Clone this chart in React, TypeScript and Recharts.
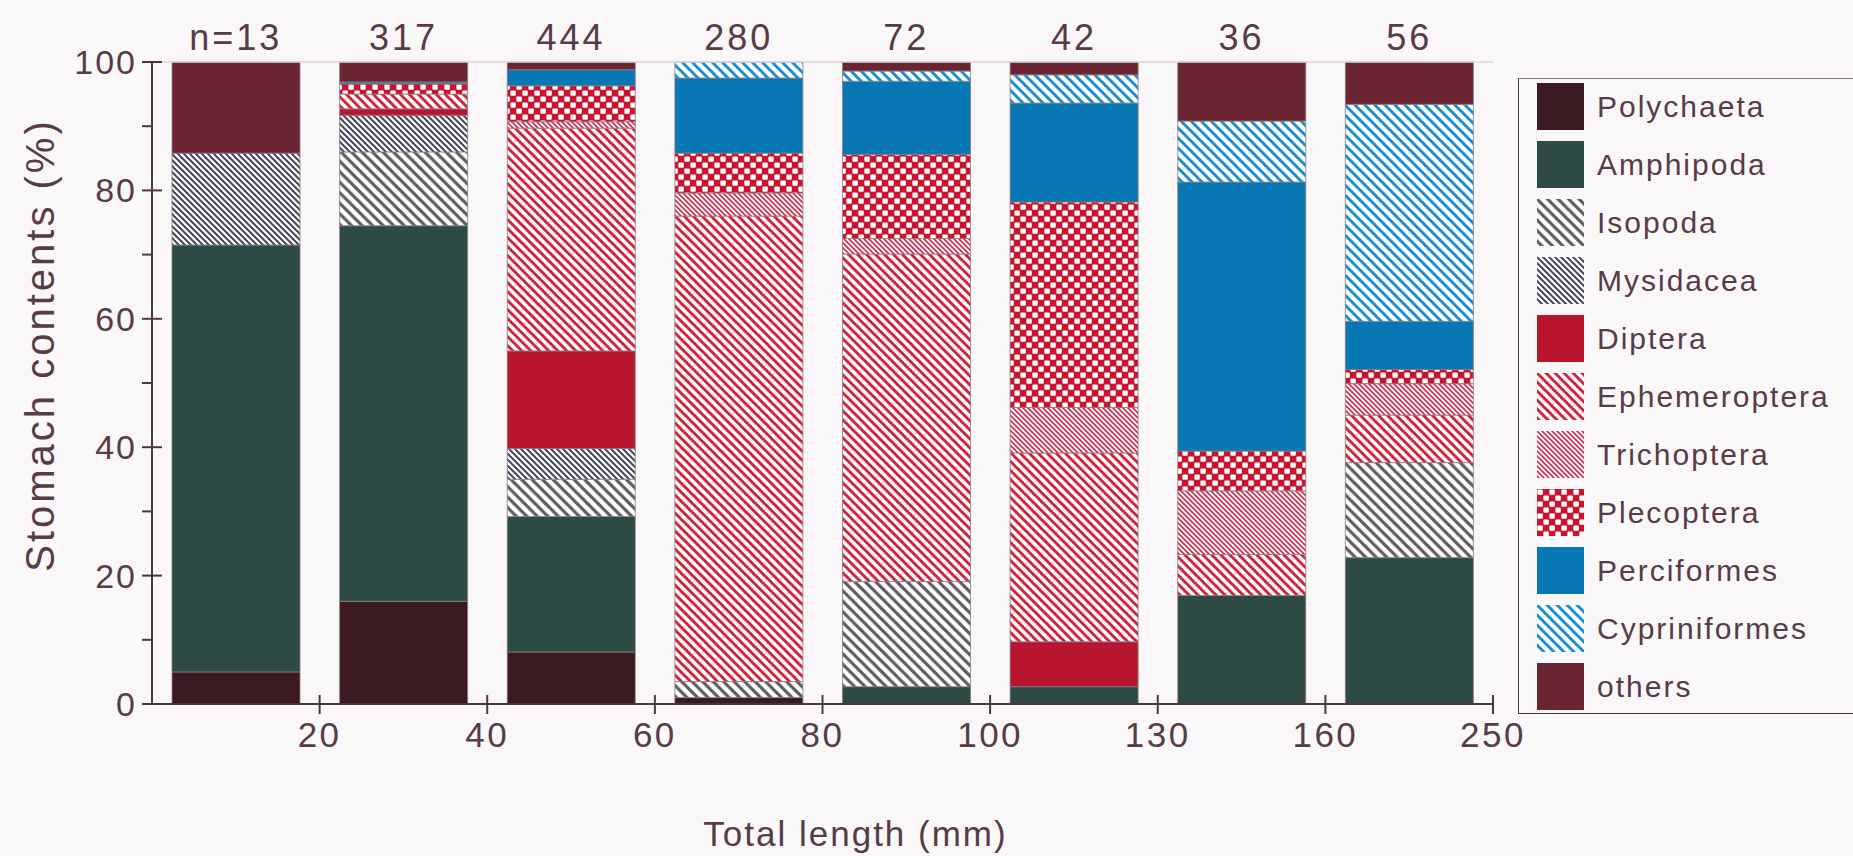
import React from 'react';
import { BarChart, Bar, XAxis, YAxis, ReferenceLine } from 'recharts';

// size classes (upper bound of each class, mm) and sample sizes
const sizeLabels = ['20', '40', '60', '80', '100', '130', '160', '250'];
const sampleN = ['n=13', '317', '444', '280', '72', '42', '36', '56'];

// stomach contents (%) per size class, bottom to top of the stack
const polychaeta = [5, 16, 8.1, 1, 0, 0, 0, 0];
const amphipoda = [66.5, 58.5, 21.1, 0, 2.7, 2.7, 16.9, 22.8];
const isopoda = [0, 11.5, 5.8, 2.5, 16.4, 0, 0, 14.8];
const mysidacea = [14.3, 5.7, 4.8, 0, 0, 0, 0, 0];
const diptera = [0, 1.0, 15.2, 0, 0, 7, 0, 0];
const ephemeroptera = [0, 2.3, 34.7, 72.5, 51, 29.4, 6.4, 7.4];
const trichoptera = [0, 0, 1.0, 3.6, 2.4, 7.1, 9.9, 4.9];
const plecoptera = [0, 1.6, 5.6, 6.2, 13.1, 32, 6.2, 2.2];
const perciformes = [0, 0.3, 2.5, 11.7, 11.4, 15.4, 41.9, 7.5];
const cypriniformes = [0, 0, 0, 2.5, 1.6, 4.4, 9.5, 33.8];
const others = [14.2, 3.1, 1.2, 0, 1.4, 2, 9.2, 6.6];

const yTicks = [0, 10, 20, 30, 40, 50, 60, 70, 80, 90, 100];

const series = [
  { key: 'Polychaeta', values: polychaeta, fill: 'polychaeta' },
  { key: 'Amphipoda', values: amphipoda, fill: 'amphipoda' },
  { key: 'Isopoda', values: isopoda, fill: 'isopoda' },
  { key: 'Mysidacea', values: mysidacea, fill: 'mysidacea' },
  { key: 'Diptera', values: diptera, fill: 'diptera' },
  { key: 'Ephemeroptera', values: ephemeroptera, fill: 'ephemeroptera' },
  { key: 'Trichoptera', values: trichoptera, fill: 'trichoptera' },
  { key: 'Plecoptera', values: plecoptera, fill: 'plecoptera' },
  { key: 'Perciformes', values: perciformes, fill: 'perciformes' },
  { key: 'Cypriniformes', values: cypriniformes, fill: 'cypriniformes' },
  { key: 'others', values: others, fill: 'others' },
];

const data = sizeLabels.map((label, i) => {
  const row: Record<string, string | number> = { label, n: sampleN[i] };
  series.forEach((s) => (row[s.key] = s.values[i]));
  return row;
});

const W = 1853;
const H = 856;
const LEFT = 152;
const RIGHT = 360;
const BAND = (W - LEFT - RIGHT) / sizeLabels.length;
const TEXT = '#573b47';
const AXIS = '#4d3540';
const FONT = '"Liberation Sans", Arial, sans-serif';

function hatch(id: string, s: number, w: number, color: string) {
  return (
    <pattern id={id} patternUnits="userSpaceOnUse" width={s} height={s}>
      <rect width={s} height={s} fill="#ffffff" />
      <path
        d={`M0,0 l${s},${s} M${-s / 2},${s / 2} l${s},${s} M${s / 2},${-s / 2} l${s},${s}`}
        stroke={color}
        strokeWidth={w}
      />
    </pattern>
  );
}

function Patterns({ p }: { p: string }) {
  return (
    <defs>
      <pattern id={`${p}polychaeta`} patternUnits="userSpaceOnUse" width={4} height={4}>
        <rect width={4} height={4} fill="#3a1c20" />
      </pattern>
      <pattern id={`${p}amphipoda`} patternUnits="userSpaceOnUse" width={4} height={4}>
        <rect width={4} height={4} fill="#2e4a44" />
      </pattern>
      {hatch(`${p}isopoda`, 10.5, 3.2, '#5c5a5e')}
      {hatch(`${p}mysidacea`, 6, 2, '#45465a')}
      <pattern id={`${p}diptera`} patternUnits="userSpaceOnUse" width={4} height={4}>
        <rect width={4} height={4} fill="#b8152f" />
      </pattern>
      {hatch(`${p}ephemeroptera`, 9, 3, '#d4243c')}
      {hatch(`${p}trichoptera`, 5, 1.6, '#d42a4c')}
      <pattern id={`${p}plecoptera`} patternUnits="userSpaceOnUse" width={12} height={12}>
        <rect width={12} height={12} fill="#c8142f" />
        <rect x={0.4} y={0.4} width={5.4} height={5.4} rx={1} fill="#ffffff" />
        <rect x={6.4} y={6.4} width={5.4} height={5.4} rx={1} fill="#ffffff" />
      </pattern>
      <pattern id={`${p}perciformes`} patternUnits="userSpaceOnUse" width={4} height={4}>
        <rect width={4} height={4} fill="#0878b4" />
      </pattern>
      {hatch(`${p}cypriniformes`, 10, 3, '#1a8fcf')}
      <pattern id={`${p}others`} patternUnits="userSpaceOnUse" width={4} height={4}>
        <rect width={4} height={4} fill="#6a2432" />
      </pattern>
    </defs>
  );
}

const YTick = (props: any) => {
  const { x, y, payload } = props;
  const major = payload.value % 20 === 0;
  return (
    <g>
      <line x1={x - 10} x2={major ? x + 10 : x} y1={y} y2={y} stroke={AXIS} strokeWidth={2} />
      {major && (
        <text x={x - 15} y={y + 12} textAnchor="end" fill={TEXT} fontSize={34} fontFamily={FONT} letterSpacing={2}>
          {payload.value}
        </text>
      )}
    </g>
  );
};

const XTick = (props: any) => {
  const { x, y, payload } = props;
  const bx = x + BAND / 2;
  return (
    <g>
      <line x1={bx} x2={bx} y1={y - 9} y2={y + 10} stroke={AXIS} strokeWidth={2} />
      <text x={bx} y={y + 43} textAnchor="middle" fill={TEXT} fontSize={35} fontFamily={FONT} letterSpacing={2.5}>
        {payload.value}
      </text>
    </g>
  );
};

const NTick = (props: any) => {
  const { x, y, payload } = props;
  return (
    <text x={x} y={y - 12} textAnchor="middle" fill={TEXT} fontSize={36} fontFamily={FONT} letterSpacing={3}>
      {payload.value}
    </text>
  );
};

function LegendBox() {
  return (
    <div
      style={{
        position: 'absolute',
        left: 1518,
        top: 78,
        width: 400,
        height: 636,
        borderLeft: `1.5px solid ${AXIS}`,
        borderTop: `1.5px solid #8a7a80`,
        borderBottom: `1.5px solid ${AXIS}`,
        boxSizing: 'border-box',
      }}
    >
      <svg width={0} height={0} style={{ position: 'absolute' }}>
        <Patterns p="lg-" />
      </svg>
      {series.map((s, i) => (
        <div key={s.key} style={{ position: 'absolute', left: 18, top: 4 + i * 58, height: 47, display: 'flex', alignItems: 'center' }}>
          <svg width={47} height={47}>
            <rect width={47} height={47} fill={`url(#lg-${s.fill})`} />
          </svg>
          <span style={{ marginLeft: 13, fontFamily: FONT, fontSize: 30, color: TEXT, letterSpacing: 2, whiteSpace: 'nowrap' }}>
            {s.key}
          </span>
        </div>
      ))}
    </div>
  );
}

export default function App() {
  return (
    <div style={{ position: 'absolute', left: 0, top: 0, width: W, height: H, background: '#faf7f8', overflow: 'hidden' }}>
      <BarChart width={W} height={H} data={data} margin={{ top: 0, right: RIGHT, bottom: 0, left: LEFT - 100 }}>
        <Patterns p="ch-" />
        <XAxis
          xAxisId="t"
          orientation="top"
          dataKey="n"
          height={62}
          axisLine={false}
          tickLine={false}
          tickSize={0}
          tickMargin={0}
          interval={0}
          tick={<NTick />}
        />
        <XAxis
          xAxisId="b"
          dataKey="label"
          height={152}
          axisLine={{ stroke: AXIS, strokeWidth: 2 }}
          tickLine={false}
          tickSize={0}
          tickMargin={0}
          interval={0}
          tick={<XTick />}
          label={{
            content: (p: any) => (
              <text
                x={p.viewBox.x + p.viewBox.width / 2 + 33}
                y={p.viewBox.y + 142}
                textAnchor="middle"
                fill={TEXT}
                fontSize={35}
                fontFamily={FONT}
                letterSpacing={2}
              >
                Total length (mm)
              </text>
            ),
          }}
        />
        <YAxis
          width={100}
          domain={[0, 100]}
          ticks={yTicks}
          interval={0}
          axisLine={{ stroke: AXIS, strokeWidth: 2 }}
          tickLine={false}
          tickSize={0}
          tickMargin={0}
          tick={<YTick />}
          label={{
            content: (p: any) => (
              <text
                transform={`translate(${p.viewBox.x + 2}, ${p.viewBox.y + p.viewBox.height / 2 - 38}) rotate(-90)`}
                textAnchor="middle"
                fill={TEXT}
                fontSize={40}
                fontFamily={FONT}
                letterSpacing={3}
              >
                Stomach contents (%)
              </text>
            ),
          }}
        />
        <ReferenceLine xAxisId="b" y={100} stroke="#ddd4d8" strokeWidth={1.5} />
        {series.map((s) => (
          <Bar
            key={s.key}
            xAxisId="b"
            dataKey={s.key}
            stackId="a"
            barSize={128}
            fill={`url(#ch-${s.fill})`}
            stroke="#8a7c82"
            strokeWidth={0.8}
            isAnimationActive={false}
          />
        ))}
      </BarChart>
      <LegendBox />
    </div>
  );
}
